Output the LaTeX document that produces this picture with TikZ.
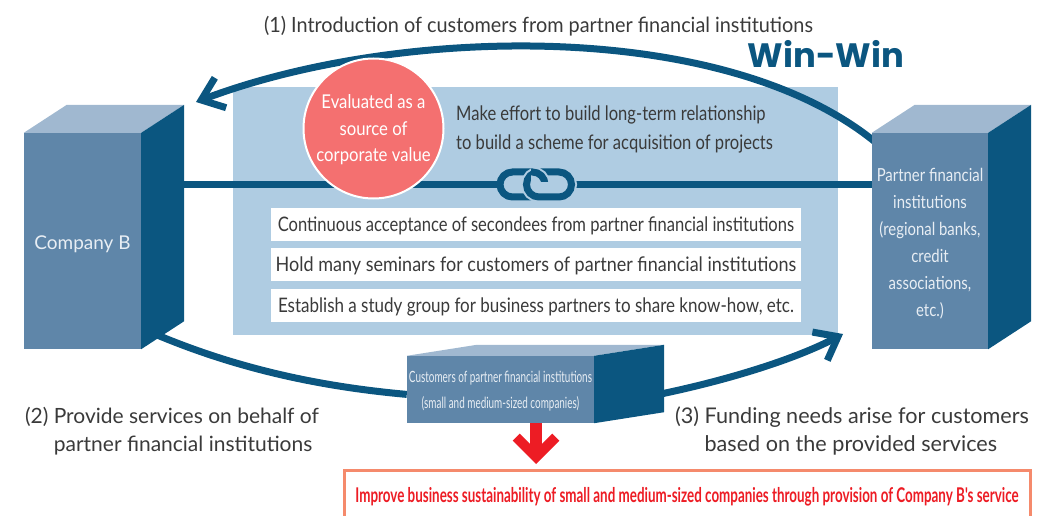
\documentclass[tikz,border=0pt]{standalone}
\usepackage{fontspec}
\setmainfont{Lato}
\newfontfamily\condA[FakeStretch=0.945]{Lato}
\newfontfamily\condB[FakeStretch=0.828]{Lato}
\newfontfamily\condC[FakeStretch=0.64]{Lato}
\newfontfamily\condD[FakeStretch=0.90]{Lato}
\newfontfamily\condE[FakeStretch=0.85]{Lato}
\newfontfamily\condF[FakeStretch=0.88]{Lato}
\newfontfamily\condG[FakeStretch=0.66]{Lato}
\newfontfamily\winfont{Poppins}
\usetikzlibrary{positioning,calc,arrows.meta,backgrounds}
\definecolor{frontblue}{HTML}{5F86A9}
\definecolor{topblue}{HTML}{A0B8D0}
\definecolor{darkblue}{HTML}{0B5680}
\definecolor{panelblue}{HTML}{AFCCE2}
\definecolor{circlered}{HTML}{F47070}
\definecolor{textgray}{HTML}{3A3A3A}
\definecolor{boxtext}{HTML}{E8EEF4}
\definecolor{alertred}{HTML}{ED1C24}
\definecolor{alertline}{HTML}{F58A6C}
\def\dy{7pt}
\tikzstyle{front}=[fill=frontblue,inner sep=0pt,text=boxtext,align=center]
\tikzstyle{label}=[inner sep=0pt,text=textgray,align=left]
\tikzstyle{rowbox}=[fill=white,inner sep=0pt,minimum width=530pt,minimum height=33pt,text=textgray,
  text height=16pt,text depth=2pt]
\tikzstyle{link}=[draw=darkblue,fill=panelblue,line width=7pt,minimum width=45pt,minimum height=25pt,
  inner sep=0pt,rounded corners=12.5pt]
\tikzstyle{linkgap}=[link,draw=panelblue,line width=11pt]
\tikzstyle{flow}=[draw=darkblue,line width=7pt]
\tikzstyle{flowtip}=[flow,-{Straight Barb[angle=76:26pt]}]
\newcommand{\newCuboid}[5]{\node[front,#3](#1){#2};
  \fill[topblue] (#1.north west) -- ($(#1.north west)+(#4,-#5)$) -- ($(#1.north east)+(#4,-#5)$) -- (#1.north east) -- cycle;
  \fill[darkblue] (#1.north east) -- ($(#1.north east)+(#4,-#5)$) -- ($(#1.south east)+(#4,-#5)$) -- (#1.south east) -- cycle;}
\begin{document}
\begin{tikzpicture}[x=1pt,y=-1pt,node distance=\dy,>=latex]
  \useasboundingbox (0,0) rectangle (1037,516);
  \begin{scope}[on background layer]
    \fill[panelblue] (233,87) rectangle (838,335);
  \end{scope}

  \newCuboid{companyB}{Company B}{at={(82.5,241)},minimum width=117pt,minimum height=216pt,font=\fontsize{19}{24}\selectfont,text height=18pt,text depth=2pt}{43}{28}
  \newCuboid{partner}{\rule{0pt}{19.5pt}Partner financial\\institutions\\(regional banks,\\credit\\associations,\\etc.)}{at={(930,241)},minimum width=116pt,minimum height=216pt,font=\fontsize{18}{27}\selectfont\condB}{43}{28}
  \newCuboid{customers}{\rule{0pt}{15pt}Customers of partner financial institutions\\(small and medium-sized companies)}{at={(500.5,389.5)},minimum width=187pt,minimum height=67pt,font=\fontsize{15.5}{26}\selectfont\condC}{70}{11}

  \node[link] (link1) at (522.5,184.5) {};
  \node[linkgap] at (549,184.5) {};
  \node[link] (link2) at (549,184.5) {};
  \begin{scope}
    \clip (531,160) rectangle (556,182);
    \node[linkgap] at (link1) {};
    \node[link] at (link1) {};
  \end{scope}

  \coordinate (tipA) at (196,102);
  \coordinate (tipB) at (843,334);
  \coordinate (tipC) at (536,464);
  \coordinate (startA) at (880,146);
  \coordinate (startB) at (141,328);
  \begin{scope}[on background layer]
    \draw[flow] (link1.west -| companyB.east) -- (link1.west);
    \draw[flow] (link2.east) -- (link2.east -| partner.west);
    \draw[flowtip] (startA) .. controls (730,18) and (400,25) .. (tipA);
    \draw[flow] (startB) .. controls (235,370) and (325,387) .. (customers.183);
    \draw[flowtip] (customers.350) .. controls (700,390) and (790,362) .. (tipB);
  \end{scope}

  \node[fill=circlered,draw=white,line width=2pt,circle,minimum size=140pt,inner sep=0pt,text=white,align=center,
    font=\fontsize{19}{26.5}\selectfont\condF] (value) at (373.5,128.5) {\rule{0pt}{17pt}Evaluated as a\\source of\\corporate value};
  \node[label,anchor=west,font=\fontsize{20}{29}\selectfont\condB] (effort) at (456,129.5)
    {Make effort to build long-term relationship\\to build a scheme for acquisition of projects};

  \node[rowbox,font=\fontsize{20}{24}\selectfont\condB] (row1) at (536,224.5) {Continuous acceptance of secondees from partner financial institutions};
  \node[rowbox,below=of row1,font=\fontsize{20}{24}\selectfont\condD] (row2) {Hold many seminars for customers of partner financial institutions};
  \node[rowbox,below=of row2,font=\fontsize{20}{24}\selectfont\condE] (row3) {Establish a study group for business partners to share know-how, etc.};

  \node[label,font=\fontsize{21}{24}\selectfont\condA] (intro) at (538.5,26.5) {(1) Introduction of customers from partner financial institutions};
  \node[label,font=\fontsize{33.8}{36}\selectfont\winfont\bfseries,text=darkblue] (win) at (826,53.5) {Win-Win};
  \node[label,font=\fontsize{21}{28}\selectfont] (provide) at (172,431) {(2) Provide services on behalf of\\\phantom{(2) }partner financial institutions};
  \node[label,font=\fontsize{21.6}{28}\selectfont] (funding) at (852,431) {(3) Funding needs arise for customers\\\phantom{(3) }based on the provided services};

  \node[draw=alertline,line width=3pt,fill=white,minimum width=686pt,minimum height=50pt,inner sep=0pt,text=alertred,
    text height=17pt,text depth=3pt,font=\fontsize{20.3}{24}\selectfont\condG\bfseries] (result) at (687,495)
    {Improve business sustainability of small and medium-sized companies through provision of Company B's service};
  \draw[alertred,line width=12pt,-{Straight Barb[angle=90:28pt,line width=10pt]}] (customers.south -| tipC) -- (tipC);
\end{tikzpicture}
\end{document}
